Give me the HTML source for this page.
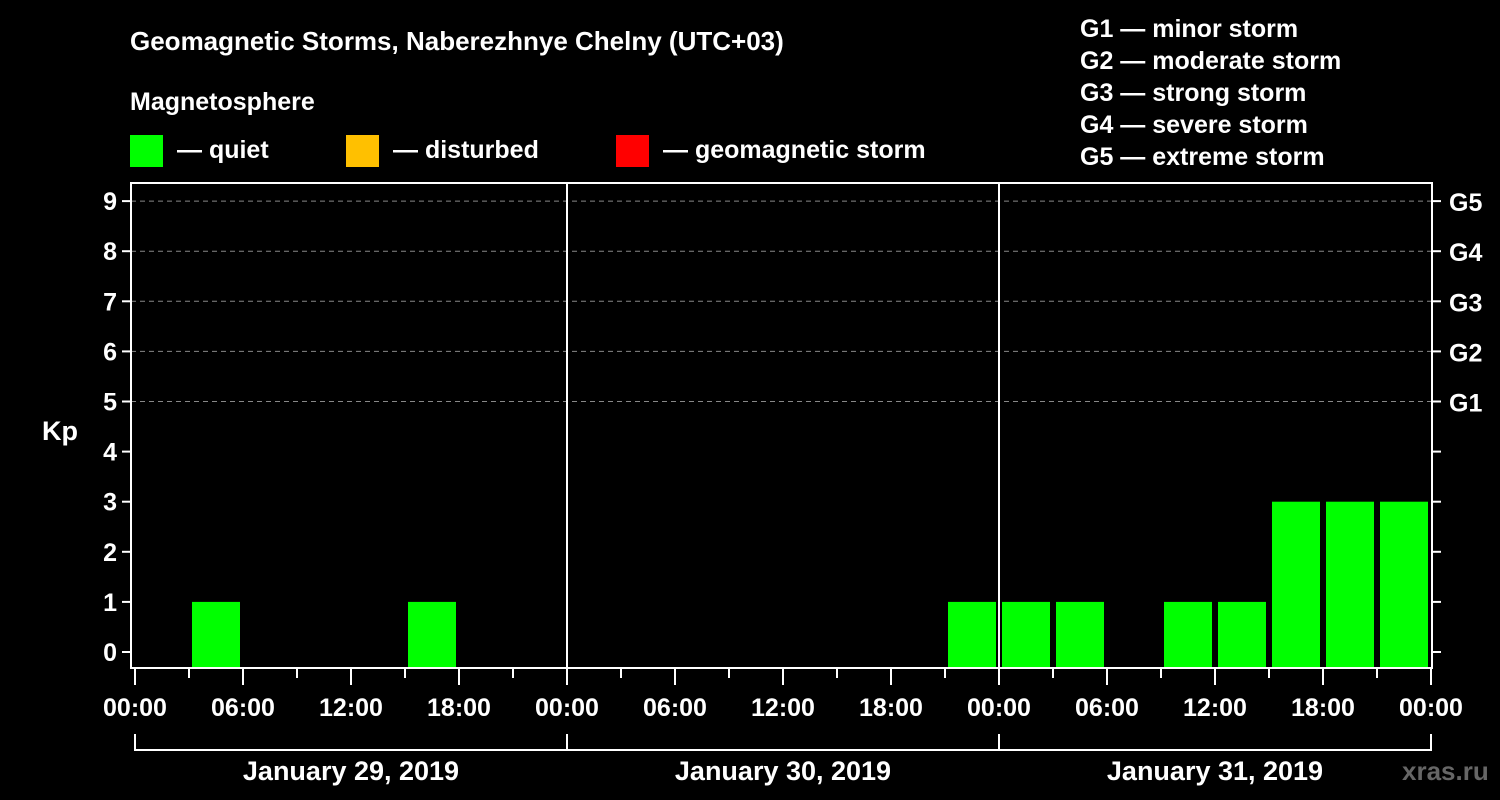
<!DOCTYPE html>
<html><head><meta charset="utf-8"><style>
body{margin:0;background:#000;}
svg{display:block;font-family:"Liberation Sans",Arial,sans-serif;font-weight:bold;}
</style></head><body>
<svg id="c" width="1500" height="800" viewBox="0 0 1500 800">
<rect width="1500" height="800" fill="#000"/>
<text x="130" y="50" fill="#fff" font-size="26">Geomagnetic Storms, Naberezhnye Chelny (UTC+03)</text>
<text x="130" y="110" fill="#fff" font-size="25">Magnetosphere</text>
<g><rect x="130" y="135" width="33" height="32" fill="#00ff00"/><text x="177" y="158" fill="#fff" font-size="25">— quiet</text></g>
<g><rect x="346" y="135" width="33" height="32" fill="#ffc000"/><text x="393" y="158" fill="#fff" font-size="25">— disturbed</text></g>
<g><rect x="616" y="135" width="33" height="32" fill="#ff0000"/><text x="663" y="158" fill="#fff" font-size="25">— geomagnetic storm</text></g>
<g fill="#fff" font-size="25">
<text x="1080" y="37">G1 — minor storm</text><text x="1080" y="69">G2 — moderate storm</text><text x="1080" y="101">G3 — strong storm</text><text x="1080" y="133">G4 — severe storm</text><text x="1080" y="165">G5 — extreme storm</text>
</g>
<text x="42" y="440" fill="#fff" font-size="27">Kp</text>
<text x="1402" y="780" fill="#666" font-size="26">xras.ru</text>
<g id="grid"></g><g id="bars"></g><g id="axes"></g>
</svg>
<script>
const days=["January 29, 2019","January 30, 2019","January 31, 2019"];
const kpValues=[0,1,0,0,0,1,0,0, 0,0,0,0,0,0,0,1, 1,1,0,1,1,3,3,3];
const yTicks=[0,1,2,3,4,5,6,7,8,9];
const gLabels=["G1","G2","G3","G4","G5"];
const hourLabels=["00:00","06:00","12:00","18:00"];
const NS="http://www.w3.org/2000/svg";
const x0=135,dayW=432,y0=652,unit=50.1,plotTop=183,plotBot=668,plotL=131,plotR=1432;
const X=h=>x0+h*dayW/24, Y=v=>y0-v*unit;
function mk(tag,attrs,parent,text){const e=document.createElementNS(NS,tag);for(const k in attrs)e.setAttribute(k,attrs[k]);if(text!=null)e.textContent=text;parent.appendChild(e);return e;}
const grid=document.getElementById('grid'),bars=document.getElementById('bars'),axes=document.getElementById('axes');
yTicks.forEach(v=>{
 if(v>=5){const l=mk('line',{x1:plotL,x2:plotR,y1:Y(v),y2:Y(v),stroke:'#888','stroke-dasharray':'5,4','stroke-width':1},grid);
 
 }
 const t=mk('line',{x1:plotL-9,x2:plotL,y1:Y(v),y2:Y(v),stroke:'#fff','stroke-width':2},axes);
 
 
 const lb=mk('text',{x:plotL-14,y:Y(v)+9,fill:'#fff','font-size':25,'text-anchor':'end'},axes,String(v));
 
 
 const rt=mk('line',{x1:plotR,x2:plotR+9,y1:Y(v),y2:Y(v),stroke:'#fff','stroke-width':2},axes);
 
 
 if(v>=5){const g=mk('text',{x:plotR+17,y:Y(v)+10,fill:'#fff','font-size':25},axes,gLabels[v-5]);
 
 }
});
kpValues.forEach((v,i)=>{
 if(v<=0)return;
 const r=mk('rect',{x:X(i*3)+3,y:Y(v),width:dayW/8-6,height:plotBot-Y(v),fill:'#00ff00'},bars);
 
 
});
const fr=mk('rect',{x:plotL,y:plotTop,width:plotR-plotL,height:plotBot-plotTop,fill:'none',stroke:'#fff','stroke-width':2},axes);


for(let d=1;d<days.length;d++){const l=mk('line',{x1:X(d*24),x2:X(d*24),y1:plotTop,y2:plotBot,stroke:'#fff','stroke-width':2},axes);
 
 }
for(let h=0;h<=days.length*24;h+=3){const major=h%6===0;
 const t=mk('line',{x1:X(h),x2:X(h),y1:plotBot,y2:plotBot+(major?17:10),stroke:'#fff','stroke-width':2},axes);
 
 
 if(major){const lb=mk('text',{x:X(h),y:716,fill:'#fff','font-size':25,'text-anchor':'middle'},axes,hourLabels[(h%24)/6]);
 
 }}
const br=mk('path',{d:'M'+X(0)+' 734 V750 H'+X(days.length*24)+' V734',fill:'none',stroke:'#fff','stroke-width':2},axes);


days.forEach((d,i)=>{
 if(i>0){const l=mk('line',{x1:X(i*24),x2:X(i*24),y1:734,y2:750,stroke:'#fff','stroke-width':2},axes);
 
 }
 const t=mk('text',{x:X(i*24+12),y:780,fill:'#fff','font-size':27,'text-anchor':'middle'},axes,d);
 
 
});
</script>
</body></html>
